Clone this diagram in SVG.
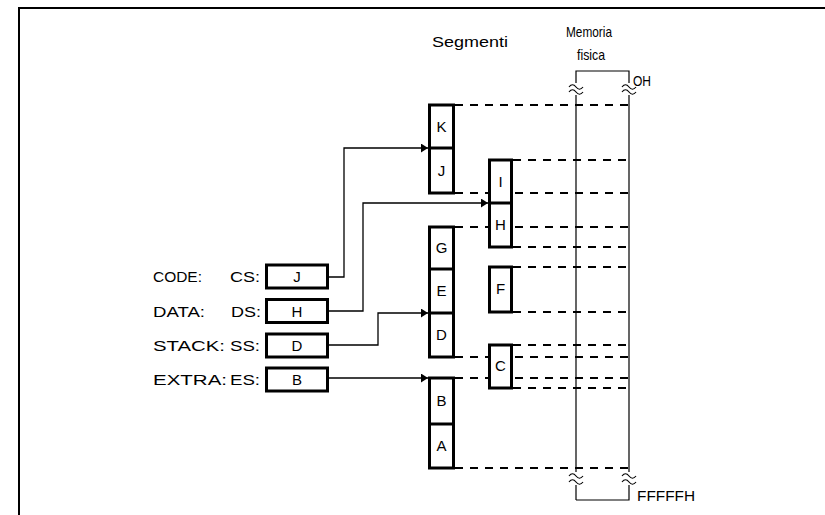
<svg xmlns="http://www.w3.org/2000/svg" width="825" height="515" viewBox="0 0 825 515">
<defs>
<style>
text{font-family:"Liberation Sans",Arial,sans-serif;font-size:15px;fill:#000}
.c{text-anchor:middle}
.box{fill:#fff;stroke:#000;stroke-width:3}
.div{stroke:#000;stroke-width:3}
.dash{stroke:#000;stroke-width:2;stroke-dasharray:8 7;fill:none}
.conn{stroke:#000;stroke-width:1.3;fill:none}
.mem{stroke:#000;stroke-width:1.2;fill:none}
.wave{stroke:#000;stroke-width:1.2;fill:none}
</style>
<marker id="ah" markerUnits="userSpaceOnUse" markerWidth="7" markerHeight="9" refX="7" refY="4.5" orient="auto">
<path d="M0,0 L7,4.5 L0,9 z" fill="#000"/>
</marker>
</defs>
<rect width="825" height="515" fill="#fff"/>
<path d="M19,515 V8 H825" fill="none" stroke="#000" stroke-width="2"/>

<g id="memory">
<path class="mem" d="M576,500 V71 H629 V500 H576"/>
<rect x="565" y="83" width="22" height="12" fill="#fff"/>
<rect x="618" y="83" width="22" height="12" fill="#fff"/>
<rect x="565" y="472" width="22" height="13" fill="#fff"/>
<rect x="618" y="472" width="22" height="13" fill="#fff"/>
<path class="wave" d="M569,87 c2.3,-3 4.7,-3 7,0 s4.7,3 7,0 M569,92 c2.3,-3 4.7,-3 7,0 s4.7,3 7,0"/>
<path class="wave" d="M622,87 c2.3,-3 4.7,-3 7,0 s4.7,3 7,0 M622,92 c2.3,-3 4.7,-3 7,0 s4.7,3 7,0"/>
<path class="wave" d="M569,476 c2.3,-3 4.7,-3 7,0 s4.7,3 7,0 M569,482 c2.3,-3 4.7,-3 7,0 s4.7,3 7,0"/>
<path class="wave" d="M622,476 c2.3,-3 4.7,-3 7,0 s4.7,3 7,0 M622,482 c2.3,-3 4.7,-3 7,0 s4.7,3 7,0"/>
<text x="566" y="37" textLength="46" lengthAdjust="spacingAndGlyphs">Memoria</text>
<text x="577" y="60" textLength="28" lengthAdjust="spacingAndGlyphs">fisica</text>
<text x="633" y="86" textLength="18" lengthAdjust="spacingAndGlyphs">OH</text>
<text x="637" y="501" textLength="58" lengthAdjust="spacingAndGlyphs">FFFFFH</text>
</g>

<text x="432" y="47" textLength="76" lengthAdjust="spacingAndGlyphs">Segmenti</text>

<g id="connectors">
<path class="dash" d="M455,105 H629 M513,160 H629 M455,193 H629 M455,227 H629 M513,247 H629 M513,267 H629 M513,312 H629 M513,345 H629 M455,357 H629 M455,378 H629 M513,388 H629 M455,468 H629"/>
<path class="conn" d="M329,277 H344 V148 H428" marker-end="url(#ah)"/>
<path class="conn" d="M329,311 H363 V203 H488" marker-end="url(#ah)"/>
<path class="conn" d="M329,345 H378 V313 H428" marker-end="url(#ah)"/>
<path class="conn" d="M329,378 H428" marker-end="url(#ah)"/>
</g>

<g id="seg-KJ">
<rect class="box" x="429.5" y="105" width="24" height="88"/>
<line class="div" x1="429.5" y1="148" x2="453.5" y2="148"/>
<text x="441.5" y="132" class="c">K</text>
<text x="441.5" y="176" class="c">J</text>
</g>
<g id="seg-IH">
<rect class="box" x="489.5" y="160" width="22" height="87"/>
<line class="div" x1="489.5" y1="203" x2="511.5" y2="203"/>
<text x="500.5" y="187" class="c">I</text>
<text x="500.5" y="230" class="c">H</text>
</g>
<g id="seg-GED">
<rect class="box" x="429.5" y="227" width="24" height="130"/>
<line class="div" x1="429.5" y1="269" x2="453.5" y2="269"/>
<line class="div" x1="429.5" y1="313" x2="453.5" y2="313"/>
<text x="441.5" y="253" class="c">G</text>
<text x="441.5" y="296" class="c">E</text>
<text x="441.5" y="340" class="c">D</text>
</g>
<g id="seg-F">
<rect class="box" x="489.5" y="267" width="22" height="45"/>
<text x="500.5" y="294" class="c">F</text>
</g>
<g id="seg-C">
<rect class="box" x="489.5" y="345" width="22" height="43"/>
<text x="500.5" y="371" class="c">C</text>
</g>
<g id="seg-BA">
<rect class="box" x="429.5" y="378" width="24" height="90"/>
<line class="div" x1="429.5" y1="424" x2="453.5" y2="424"/>
<text x="441.5" y="406" class="c">B</text>
<text x="441.5" y="451" class="c">A</text>
</g>

<g id="reg-CS">
<text x="153" y="282" textLength="49" lengthAdjust="spacingAndGlyphs">CODE:</text>
<text x="230" y="282" textLength="30" lengthAdjust="spacingAndGlyphs">CS:</text>
<rect class="box" x="266.5" y="265" width="61" height="23"/>
<text x="297" y="282" class="c">J</text>
</g>
<g id="reg-DS">
<text x="153" y="317" textLength="52" lengthAdjust="spacingAndGlyphs">DATA:</text>
<text x="231" y="317" textLength="30" lengthAdjust="spacingAndGlyphs">DS:</text>
<rect class="box" x="266.5" y="299.5" width="61" height="23"/>
<text x="297" y="316.5" class="c">H</text>
</g>
<g id="reg-SS">
<text x="153" y="351" textLength="72" lengthAdjust="spacingAndGlyphs">STACK:</text>
<text x="230" y="351" textLength="30" lengthAdjust="spacingAndGlyphs">SS:</text>
<rect class="box" x="266.5" y="334" width="61" height="23"/>
<text x="297" y="351" class="c">D</text>
</g>
<g id="reg-ES">
<text x="153" y="385" textLength="74" lengthAdjust="spacingAndGlyphs">EXTRA:</text>
<text x="230" y="385" textLength="30" lengthAdjust="spacingAndGlyphs">ES:</text>
<rect class="box" x="266.5" y="368" width="61" height="23"/>
<text x="297" y="385" class="c">B</text>
</g>
</svg>
